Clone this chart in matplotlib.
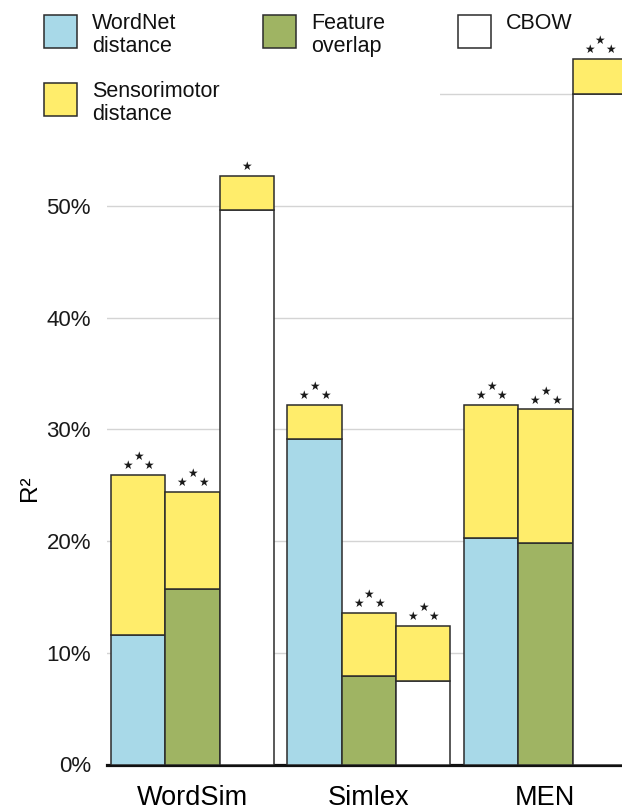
import matplotlib
matplotlib.use('Agg')
import matplotlib.pyplot as plt
from matplotlib.patches import Rectangle
from matplotlib.ticker import FuncFormatter
import numpy as np

plt.rcParams['font.family'] = ['Liberation Sans', 'DejaVu Sans']

# datos: R^2 base de cada predictor y R^2 total al sumar la distancia sensoriomotora
DATASETS = ['WordSim', 'Simlex', 'MEN']
PREDICTORES = ['WordNet\ndistance', 'Feature\noverlap', 'CBOW']
R2_BASE = [
    [11.6, 15.7, 49.6],   # WordSim
    [29.1, 7.9, 7.5],     # Simlex
    [20.3, 19.8, 60.0],   # MEN
]
R2_TOTAL = [
    [25.9, 24.4, 52.7],
    [32.2, 13.6, 12.4],
    [32.2, 31.8, 63.2],
]
# numero de estrellas de significancia sobre cada barra
ESTRELLAS = [
    [3, 3, 1],
    [3, 3, 3],
    [3, 3, 3],
]
ETIQUETA_SENSORIAL = 'Sensorimotor\ndistance'

COLORES = ['#a8d9e8', '#9fb463', 'white']
AMARILLO = '#ffed6b'
BORDE = '#2b2b2b'

ANCHO = 1.0
SEPARACION = 3.25

fig = plt.figure(figsize=(6.22, 8.10), dpi=100)
W, H = 622, 810
ax = fig.add_axes([107 / W, 45.5 / H, (W - 107) / W, 764.5 / H])

for g, nombre in enumerate(DATASETS):
    for j in range(3):
        x = g * SEPARACION + (j - 1) * ANCHO
        base = R2_BASE[g][j]
        extra = R2_TOTAL[g][j] - base
        ax.bar(x, base, width=ANCHO, color=COLORES[j], edgecolor=BORDE,
               linewidth=1.1, zorder=3)
        ax.bar(x, extra, bottom=base, width=ANCHO, color=AMARILLO,
               edgecolor=BORDE, linewidth=1.1, zorder=3)
        tope = R2_TOTAL[g][j]
        n = ESTRELLAS[g][j]
        if n == 3:
            offs = [(-7.7, 6.7), (0, 13.2), (7.7, 6.7)]
        else:
            offs = [(0, 6.7)]
        for dx, dy in offs:
            ax.annotate('★', (x, tope), xytext=(dx, dy), textcoords='offset points',
                        ha='center', va='center', fontsize=8.5, color='#1a1a1a',
                        family='DejaVu Sans', zorder=4)

ax.set_xlim(-1.5 - 4 / 54.3, -1.5 + (W - 111) / 54.3)
ax.set_ylim(0, 764.5 / 11.17)

ax.set_yticks(np.arange(0, 61, 10))
ax.yaxis.set_major_formatter(FuncFormatter(lambda v, p: f'{v:.0f}%'))
ax.set_xticks([g * SEPARACION for g in range(3)])
ax.set_xticklabels(DATASETS, fontsize=19.5)
ax.tick_params(axis='x', length=0, pad=14.5)
ax.tick_params(axis='y', length=0, pad=11.5, labelsize=16, labelcolor='#1a1a1a')

ax.grid(axis='y', color='#d4d4d4', linewidth=1.0, zorder=0)
for lado in ['left', 'right', 'top']:
    ax.spines[lado].set_visible(False)
ax.spines['bottom'].set_linewidth(2.3)
ax.spines['bottom'].set_color('#111111')
ax.set_ylabel('R²', fontsize=17.5)
ax.yaxis.set_label_coords(-66 / 515, (764.5 - 488) / 764.5)

# leyenda manual sobre un fondo blanco
fig.patches.append(Rectangle((0, 1 - 128 / H), 440 / W, 128 / H, transform=fig.transFigure,
                             facecolor='white', edgecolor='none', zorder=1))
leyenda = [
    (44, 15, COLORES[0], PREDICTORES[0]),
    (263, 15, COLORES[1], PREDICTORES[1]),
    (458, 15, COLORES[2], PREDICTORES[2]),
    (44, 83, AMARILLO, ETIQUETA_SENSORIAL),
]
for px, py, color, texto in leyenda:
    fig.patches.append(Rectangle((px / W, 1 - (py + 33) / H), 33 / W, 33 / H,
                                 transform=fig.transFigure, facecolor=color,
                                 edgecolor=BORDE, linewidth=1.1, zorder=2))
    fig.text((px + 48) / W, 1 - (py - 2) / H, texto, fontsize=15.5, va='top',
             ha='left', linespacing=1.1, color='#111111', zorder=3)

fig.savefig('out.png', dpi=100)
